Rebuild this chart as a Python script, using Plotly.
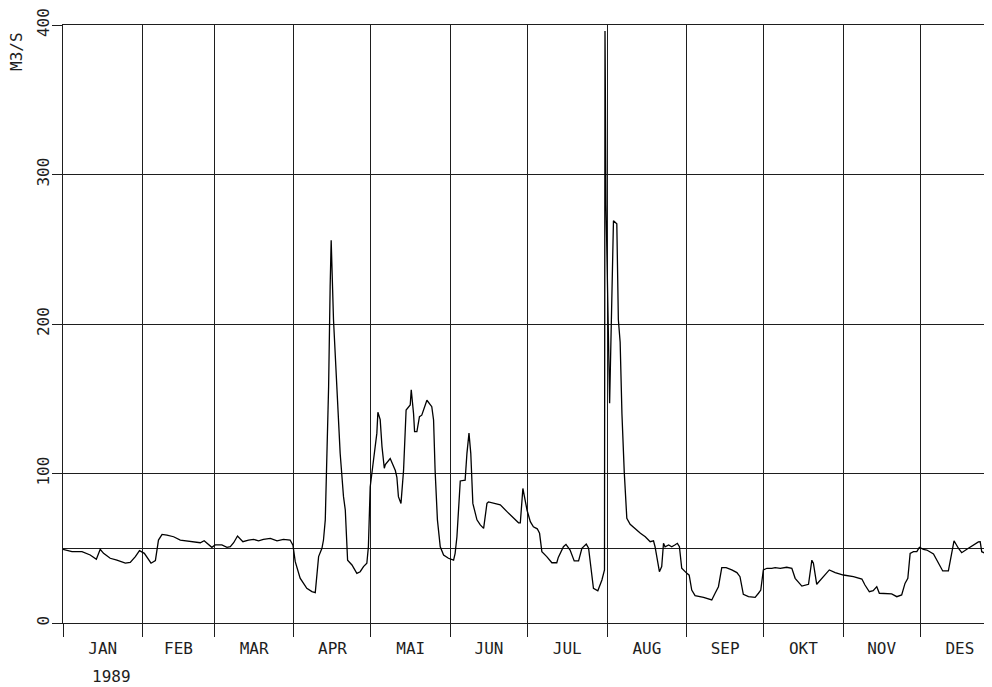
import pandas as pd
import plotly.graph_objects as go

# ---- data: daily discharge 1989 (day of year, 0 = 1 Jan) ----
day_of_year = [
    0, 1.6, 3.5, 7.4, 10.6, 13.0, 14.5, 15.8, 18.4, 21.0, 24.3, 26.2, 28.2, 29.8,
    31.7, 34.3, 36.0, 37.2, 38.6, 40.5, 43.1, 45.7, 48.3, 50.9, 53.5, 55.0, 56.7,
    58.0, 59.3, 61.9, 63.9, 65.2, 66.5, 68.0, 70.1, 72.3, 74.3, 76.2, 78.1, 80.8,
    83.4, 85.9, 88.5, 89.6, 90.5, 92.4, 95.0, 97.0, 98.3, 99.6, 100.9, 101.5,
    102.2, 103.5, 104.1, 104.5, 105.4, 106.7, 108.0, 109.3, 110.0, 110.9, 112.6,
    114.5, 115.8, 117.1, 118.4, 119.0, 119.7, 121.0, 122.3, 122.7, 123.6, 124.3,
    125.2, 125.6, 127.5, 129.5, 130.1, 130.7, 131.7, 132.7, 133.7, 135.3, 135.7,
    136.6, 137.0, 137.9, 138.9, 139.8, 141.8, 143.7, 144.4, 145.0, 145.9, 147.0,
    148.3, 150.2, 152.2, 152.8, 153.5, 154.8, 156.7, 157.4, 158.2, 158.9, 159.7,
    161.3, 162.6, 163.9, 165.2, 165.8, 170.4, 173.0, 175.5, 177.5, 178.2, 178.8,
    179.2, 180.8, 182.1, 183.3, 184.8, 185.7, 186.6, 188.5, 190.5, 192.4, 193.0,
    195.0, 196.0, 197.6, 199.2, 200.9, 202.2, 203.9, 204.8, 206.7, 208.4, 210.0,
    211.0, 211.2, 211.6, 213.0, 214.5, 215.8, 216.4, 217.1, 217.8, 218.7, 219.7,
    221.0, 223.5, 225.0, 226.9, 228.8, 230.1, 230.7, 232.4, 233.3, 234.0, 234.6,
    236.0, 237.2, 238.4, 239.4, 240.2, 241.1, 243.1, 244.0, 245.0, 246.3, 249.6,
    252.8, 254.1, 255.4, 256.7, 258.4, 260.6, 262.6, 263.8, 265.1, 267.1, 269.7,
    271.0, 271.9, 272.9, 274.3, 276.2, 277.5, 279.5, 282.0, 284.0, 285.3, 287.9,
    290.5, 291.8, 292.4, 293.7, 295.7, 298.6, 300.9, 304.1, 308.0, 311.3, 312.5,
    314.2, 315.7, 317.1, 318.1, 320.3, 322.9, 324.9, 326.8, 328.1, 329.2, 330.1,
    331.4, 332.7, 333.7, 335.3, 336.6, 339.2, 341.1, 342.8, 345.0, 346.3, 347.2,
    348.9, 350.2, 352.2, 354.8, 356.7, 357.4, 358.0, 360.0, 362.1, 364.0,
]
flow_m3s = [
    49.3, 48.4, 47.7, 47.7, 45.5, 42.6, 49.3, 46.6, 43.3, 42.0, 40.0, 40.5, 44.4, 48.4,
    46.6, 40.0, 41.7, 55.5, 59.3, 58.8, 57.7, 55.5, 55.0, 54.4, 53.7, 55.0, 52.2,
    50.6, 52.2, 52.2, 50.6, 51.0, 53.7, 58.2, 54.4, 55.5, 55.9, 55.0, 55.9, 56.6,
    55.0, 55.9, 55.5, 52.0, 41.0, 30.0, 23.2, 21.0, 20.3, 44.4, 50.0, 55.5,
    69.0, 158.0, 225.0, 256.0, 203.0, 158.0, 113.5, 84.5, 75.6, 42.0, 38.8,
    33.2, 34.3, 37.7, 40.0, 51.0, 91.0, 109.0, 127.0, 141.0, 136.0, 118.0,
    103.5, 106.0, 110.0, 102.0, 97.5, 84.5, 80.0, 102.0, 142.5, 145.8, 156.0,
    140.0, 128.0, 128.0, 138.0, 139.0, 149.0, 144.7, 135.8, 102.0, 69.0, 51.0,
    45.5, 43.3, 42.0, 46.6, 57.7, 95.0, 95.6, 113.5, 127.0, 113.5, 80.0,
    69.0, 65.6, 63.3, 80.0, 81.0, 79.0, 74.5, 70.0, 67.0, 67.0, 82.0,
    90.0, 75.6, 67.8, 64.4, 63.0, 60.0, 47.7, 44.4, 40.3, 40.3, 43.9,
    51.0, 52.6, 48.8, 41.5, 41.5, 50.0, 52.8, 50.0, 23.2, 21.6, 28.8,
    35.5, 396.0, 280.0, 147.0, 269.0, 267.0, 203.0, 188.0, 140.0, 101.0, 70.0,
    66.0, 62.0, 60.0, 57.7, 54.4, 55.0, 51.0, 34.3, 37.7, 53.3, 51.0,
    52.2, 51.0, 52.2, 53.3, 51.0, 36.6, 33.2, 32.0, 22.0, 18.3, 17.2,
    15.4, 19.9, 24.3, 37.0, 37.0, 35.5, 33.7, 31.0, 19.2, 17.6, 17.2,
    19.9, 22.0, 35.5, 36.6, 36.6, 37.0, 36.6, 37.3, 36.6, 29.9, 24.7,
    25.9, 42.0, 40.0, 25.9, 29.9, 35.5, 33.7, 32.1, 31.0, 29.4, 25.4,
    20.9, 21.6, 24.3, 19.9, 19.9, 19.5, 17.6, 18.8, 26.5, 29.9, 46.6,
    47.7, 47.7, 50.6, 49.3, 48.8, 46.2, 40.0, 34.8, 34.8, 46.6, 55.0,
    50.0, 47.0, 49.3, 52.2, 54.2, 54.4, 47.7, 46.2, 43.9, 42.0,
]

month_labels = ["JAN", "FEB", "MAR", "APR", "MAI", "JUN",
                "JUL", "AUG", "SEP", "OKT", "NOV", "DES"]
y_tick_values = [0, 100, 200, 300, 400]
y_extra_grid = [50]
year_label = "1989"
y_title = "M3/S"

# ---- derived ----
start = pd.Timestamp("1989-01-01")
dates = start + pd.to_timedelta(day_of_year, unit="D")
month_starts = pd.date_range("1989-01-01", periods=12, freq="MS")
month_mids = [m + (m + pd.offsets.MonthBegin(1) - m) / 2 for m in month_starts]

FONT = "DejaVu Sans Mono"
INK = "#1e1e1e"
FS = 16

fig = go.Figure()
fig.add_trace(go.Scatter(
    x=dates, y=flow_m3s, mode="lines",
    line=dict(color="#000000", width=1.3),
    hoverinfo="skip", showlegend=False,
))

# page has an 8px body margin: figure is sized/placed so that the plot
# area lands at x 63..992, y 25..623 in the 992x687 window
fig.update_layout(
    width=984, height=679,
    margin=dict(l=55, r=0, t=17, b=64),
    paper_bgcolor="white", plot_bgcolor="white",
    font=dict(family=FONT, size=FS, color=INK),
    showlegend=False,
)

fig.update_xaxes(
    type="date",
    range=[start, start + pd.Timedelta(days=362.0)],
    tickmode="array",
    tickvals=month_mids,
    ticktext=month_labels,
    ticks="",
    showgrid=False,
    zeroline=False,
    showline=True, linecolor=INK, linewidth=1, mirror=True,
    ticklabelstandoff=11,
    tickfont=dict(family=FONT, size=FS, color=INK),
    minor=dict(
        tickmode="array", tickvals=list(month_starts),
        ticks="outside", ticklen=13, tickcolor=INK, tickwidth=1,
        showgrid=True, gridcolor=INK, gridwidth=1,
    ),
)

fig.update_yaxes(
    range=[0, 400],
    tickmode="array",
    tickvals=y_tick_values,
    ticktext=[str(v) for v in y_tick_values],
    tickangle=-90,
    ticks="outside", ticklen=10, tickcolor=INK, tickwidth=1,
    showgrid=True, gridcolor=INK, gridwidth=1,
    zeroline=False,
    showline=True, linecolor=INK, linewidth=1,
    ticklabelstandoff=-3,
    tickfont=dict(family=FONT, size=FS, color=INK),
    minor=dict(tickmode="array", tickvals=y_extra_grid, ticks="",
               showgrid=True, gridcolor=INK, gridwidth=1),
)

fig.add_annotation(
    text=y_title, textangle=-90, showarrow=False,
    xref="paper", yref="paper", x=-0.0495, y=0.955,
    xanchor="center", yanchor="middle",
    font=dict(family=FONT, size=FS, color=INK),
)
fig.add_annotation(
    text=year_label, showarrow=False,
    xref="paper", yref="paper", x=0.0527, y=-0.0903,
    xanchor="center", yanchor="middle",
    font=dict(family=FONT, size=FS, color=INK),
)

fig.write_html("out.html")
